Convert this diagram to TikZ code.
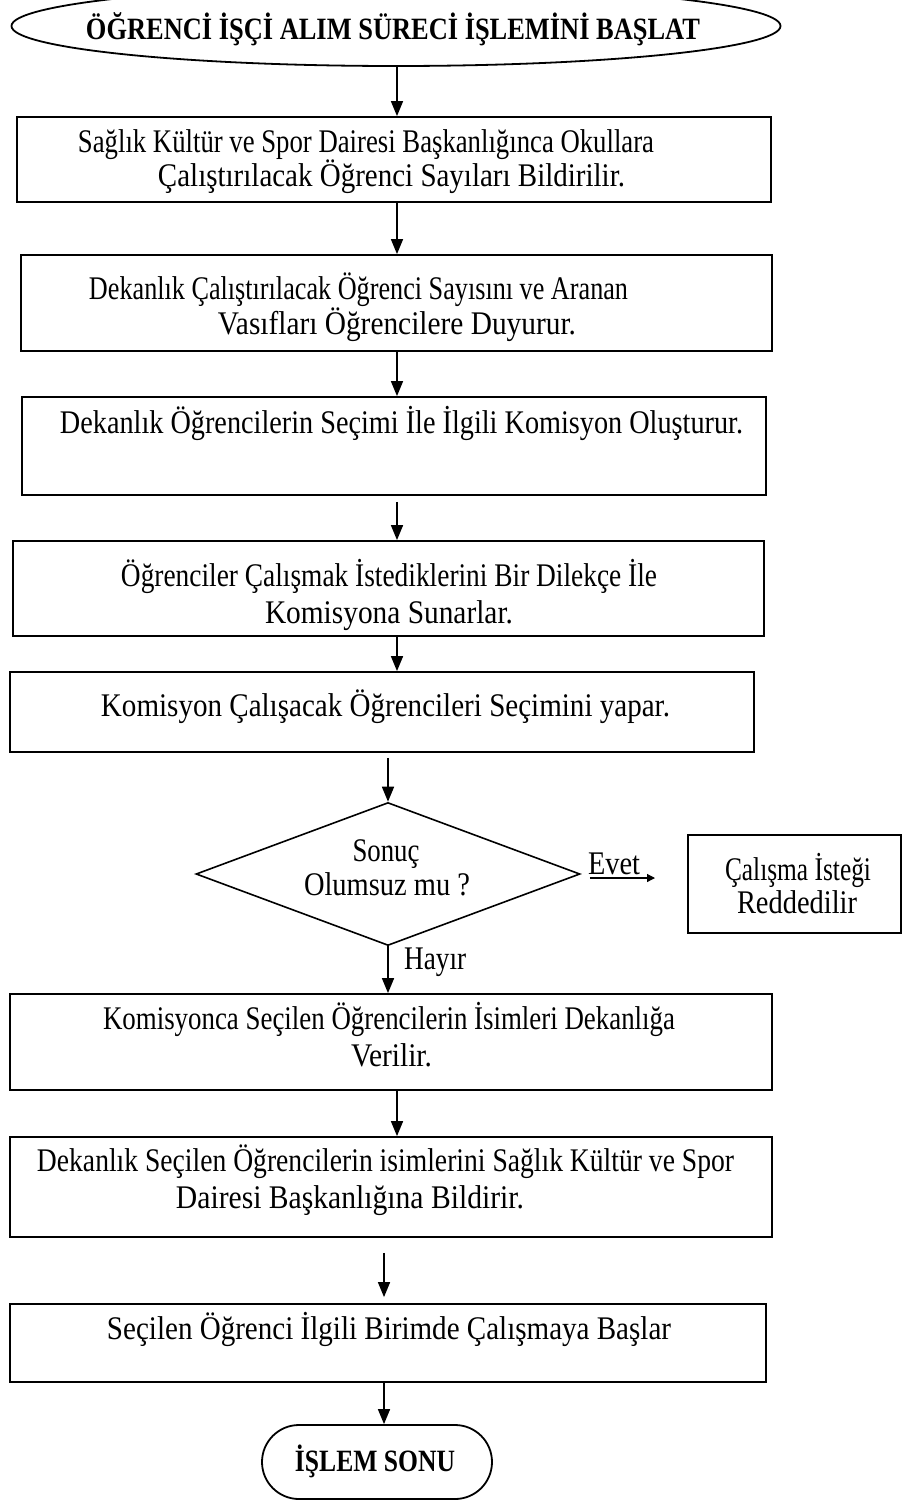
\documentclass[tikz,border=0pt]{standalone}
\usepackage{fontspec}
\setmainfont{Liberation Serif}
\usepackage{graphicx}
\usetikzlibrary{shapes.geometric, arrows.meta}

% squeeze or stretch a line of text to a given width, keeping its height
\newcommand{\fitw}[2]{\resizebox{#1}{\height}{#2}}

\begin{document}
\begin{tikzpicture}[x=1pt, y=-1pt,
  stepbox/.style={draw, line width=1.8pt, rectangle, inner sep=0pt},
  txt/.style={inner sep=0pt, text height=22pt, text depth=7pt, font=\fontsize{33}{38}\selectfont},
  ttl/.style={inner sep=0pt, text height=21pt, text depth=5pt, font=\fontsize{31}{36}\selectfont\bfseries},
  arr/.style={line width=1.6pt, -{Triangle[length=15pt,width=12pt]}},
]
\useasboundingbox (0,0) rectangle (902,1502);

% columns the vertical connectors run along
\coordinate (colA) at (397,0);
\coordinate (colB) at (388,0);
\coordinate (colC) at (384,0);

% start terminal
\node[draw, ellipse, line width=1.8pt, inner sep=0pt, minimum width=769pt, minimum height=80pt] (start) at (396,26) {};
\node[ttl] (starttxt) at (393,31) {\fitw{614pt}{ÖĞRENCİ İŞÇİ ALIM SÜRECİ İŞLEMİNİ BAŞLAT}};

% process boxes
\node[stepbox, minimum width=754pt, minimum height=85pt] (b1) at (394,159.5) {};
\node[txt] (t1a) at (366,145) {\fitw{576pt}{Sağlık Kültür ve Spor Dairesi Başkanlığınca Okullara}};
\node[txt] (t1b) at (391.5,179) {\fitw{467pt}{Çalıştırılacak Öğrenci Sayıları Bildirilir.}};

\node[stepbox, minimum width=751pt, minimum height=96pt] (b2) at (396.5,303) {};
\node[txt] (t2a) at (358.5,292) {\fitw{539pt}{Dekanlık Çalıştırılacak Öğrenci Sayısını ve Aranan}};
\node[txt] (t2b) at (397,327) {\fitw{358pt}{Vasıfları Öğrencilere Duyurur.}};

\node[stepbox, minimum width=744pt, minimum height=98pt] (b3) at (394,446) {};
\node[txt] (t3) at (401.5,426) {\fitw{683pt}{Dekanlık Öğrencilerin Seçimi İle İlgili Komisyon Oluşturur.}};

\node[stepbox, minimum width=751pt, minimum height=95pt] (b4) at (388.5,588.5) {};
\node[txt] (t4a) at (389,579) {\fitw{536pt}{Öğrenciler Çalışmak İstediklerini Bir Dilekçe İle}};
\node[txt] (t4b) at (389,616) {\fitw{248pt}{Komisyona Sunarlar.}};

\node[stepbox, minimum width=744pt, minimum height=80pt] (b5) at (382,712) {};
\node[txt] (t5) at (385.5,709) {\fitw{569pt}{Komisyon Çalışacak Öğrencileri Seçimini yapar.}};

% decision
\node[draw, diamond, line width=1.6pt, inner sep=0pt, minimum width=384pt, minimum height=143pt] (dec) at (388,874) {};
\node[txt] (d1) at (386,854) {\fitw{67pt}{Sonuç}};
\node[txt] (d2) at (387,888) {\fitw{166pt}{Olumsuz mu ?}};

% rejected branch
\node[stepbox, minimum width=213pt, minimum height=98pt] (rej) at (794.5,884) {};
\node[txt] (r1) at (798,873) {\fitw{146pt}{Çalışma İsteği}};
\node[txt] (r2) at (797,906) {\fitw{120pt}{Reddedilir}};

\node[stepbox, minimum width=762pt, minimum height=96pt] (b6) at (391,1042) {};
\node[txt] (t6a) at (389,1022) {\fitw{572pt}{Komisyonca Seçilen Öğrencilerin İsimleri Dekanlığa}};
\node[txt] (t6b) at (391.5,1059) {\fitw{81pt}{Verilir.}};

\node[stepbox, minimum width=762pt, minimum height=100pt] (b7) at (391,1187) {};
\node[txt] (t7a) at (385.5,1164) {\fitw{697pt}{Dekanlık Seçilen Öğrencilerin isimlerini Sağlık Kültür ve Spor}};
\node[txt] (t7b) at (350,1201) {\fitw{348pt}{Dairesi Başkanlığına Bildirir.}};

\node[stepbox, minimum width=756pt, minimum height=78pt] (b8) at (388,1343) {};
\node[txt] (t8) at (389,1332) {\fitw{564pt}{Seçilen Öğrenci İlgili Birimde Çalışmaya Başlar}};

% end terminal
\node[draw, rectangle, rounded corners=37pt, line width=1.8pt, inner sep=0pt, minimum width=230pt, minimum height=74pt] (stop) at (377,1462) {};
\node[ttl] (stoptxt) at (375,1463) {\fitw{160pt}{İŞLEM SONU}};

% connectors
\draw[arr] (start.south -| colA) -- (b1.north -| colA);
\draw[arr] (b1.south -| colA) -- (b2.north -| colA);
\draw[arr] (b2.south -| colA) -- (b3.north -| colA);
\draw[arr, shorten <=6pt] (b3.south -| colA) -- (b4.north -| colA);
\draw[arr] (b4.south -| colA) -- (b5.north -| colA);
\draw[arr, shorten <=5pt] (b5.south -| colB) -- (dec.north);
\draw[arr] (dec.south) -- (b6.north -| colB);
\node[txt, anchor=west] (hayir) at (404,962) {\fitw{62pt}{Hayır}};
\draw[arr] (b6.south -| colA) -- (b7.north -| colA);
\draw[arr, shorten <=15pt, shorten >=6pt] (b7.south -| colC) -- (b8.north -| colC);
\draw[arr] (b8.south -| colC) -- (stop.north -| colC);

% "Evet" branch: the connector runs under the label like an underline
\coordinate (evetend) at (655,878);
\draw[line width=1.2pt, -{Triangle[length=8pt,width=8pt]}] ([xshift=9pt,yshift=-4pt]dec.east) -- (evetend);
\node[txt] (evet) at (614,867) {\fitw{52pt}{Evet}};
\end{tikzpicture}
\end{document}
